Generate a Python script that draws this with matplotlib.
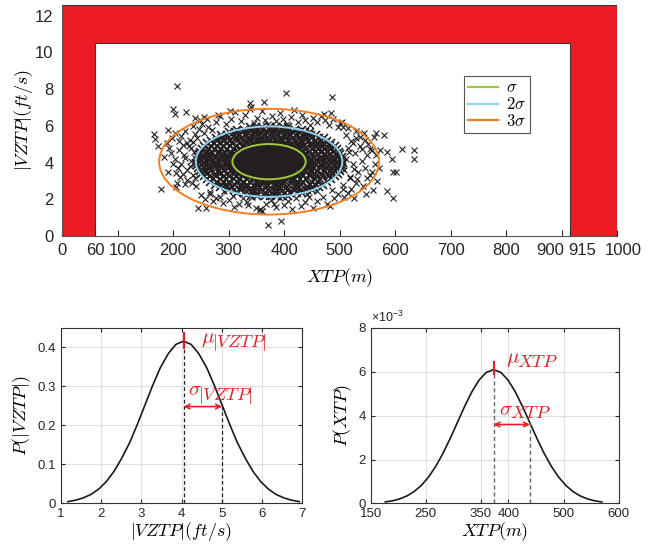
import matplotlib
matplotlib.use("Agg")
import matplotlib.pyplot as plt
from matplotlib.patches import Ellipse
from matplotlib.transforms import ScaledTranslation

plt.rcParams["font.family"] = ["Liberation Sans", "DejaVu Sans"]
plt.rcParams["mathtext.fontset"] = "cm"

# safe region limits
xtp_low = 60
xtp_high = 915
vztp_high = 10.5
xtp_max = 1000
vztp_max = 12.6
xtp_ticks = [0, 60, 100, 200, 300, 400, 500, 600, 700, 800, 900, 915, 1000]
vztp_ticks = [0, 2, 4, 6, 8, 10, 12]

# distribution parameters
mu_xtp = 373
sigma_xtp = 66
mu_vz = 4.05
sigma_vz = 0.96

# dense core of the scatter, rows of (|VZTP|, [XTP ...])
core_rows = [
    (3.15, [356, 366, 376, 386, 393]),
    (3.30, [338, 347, 356, 366, 375, 384, 394, 403, 411]),
    (3.45, [327, 336, 346, 355, 365, 374, 384, 393, 403, 412, 421]),
    (3.60, [320, 330, 339, 349, 358, 368, 378, 388, 397, 407, 417, 427]),
    (3.75, [316, 325, 334, 344, 353, 363, 373, 383, 392, 402, 411, 421, 431]),
    (3.90, [313, 323, 332, 342, 352, 362, 372, 382, 392, 401, 411, 421, 431, 436]),
    (4.05, [312, 321, 331, 341, 351, 361, 371, 381, 391, 401, 411, 421, 430, 438]),
    (4.20, [313, 322, 332, 342, 352, 362, 372, 382, 392, 402, 412, 422, 431]),
    (4.35, [315, 324, 334, 344, 354, 364, 374, 384, 394, 404, 414, 424, 433]),
    (4.50, [319, 329, 339, 349, 359, 369, 379, 389, 399, 409, 419, 428]),
    (4.65, [325, 335, 345, 355, 365, 375, 385, 395, 405, 415, 424]),
    (4.80, [334, 344, 354, 364, 374, 384, 394, 404, 414]),
    (4.95, [350, 360, 370, 380, 390, 398]),
]

# band between 1 and 2 sigma
ring_rows = [
    (2.20, [340, 351, 366, 374, 388, 397, 408]),
    (2.35, [316, 327, 343, 352, 365, 379, 386, 401, 410, 424, 433]),
    (2.50, [299, 309, 322, 336, 344, 360, 371, 385, 393, 408, 419, 431, 441, 450]),
    (2.65, [285, 297, 307, 322, 333, 348, 356, 370, 384, 392, 406, 419, 427, 442, 453, 463]),
    (2.80, [276, 288, 296, 311, 325, 333, 349, 360, 371, 386, 397, 409, 423, 431, 447, 457, 471]),
    (2.95, [267, 279, 291, 300, 315, 328, 338, 352, 362, 377, 389, 399, 414, 426, 435, 450, 462,
            477]),
    (3.10, [261, 272, 285, 296, 309, 318, 333, 344, 358, 367, 381, 394, 403, 417, 428, 440, 455,
            465, 484]),
    (3.25, [255, 266, 278, 291, 300, 313, 326, 336, 412, 423, 435, 447, 458, 470, 481, 492]),
    (3.40, [251, 262, 275, 284, 298, 309, 320, 327, 424, 433, 446, 455, 469, 480, 489, 497]),
    (3.55, [248, 259, 268, 282, 292, 304, 314, 321, 430, 437, 451, 460, 473, 484, 492, 501]),
    (3.70, [245, 255, 267, 279, 288, 300, 310, 317, 434, 442, 453, 465, 476, 487, 496, 504]),
    (3.85, [244, 253, 266, 275, 288, 297, 308, 314, 437, 444, 458, 467, 479, 490, 499, 505]),
    (4.00, [242, 254, 263, 276, 285, 297, 305, 313, 438, 446, 455, 468, 477, 489, 498, 506]),
    (4.15, [244, 252, 265, 274, 287, 298, 306, 313, 437, 445, 457, 466, 480, 488, 500, 505]),
    (4.30, [245, 256, 266, 278, 288, 299, 309, 316, 434, 443, 454, 467, 476, 489, 497, 504]),
    (4.45, [246, 258, 268, 281, 290, 303, 312, 319, 431, 439, 451, 462, 474, 483, 494, 501]),
    (4.60, [248, 261, 270, 283, 294, 304, 316, 324, 426, 433, 447, 457, 469, 479, 490, 499]),
    (4.75, [252, 264, 275, 287, 297, 310, 320, 330, 418, 427, 437, 450, 461, 472, 483, 495]),
    (4.90, [256, 268, 279, 290, 303, 313, 326, 338, 346, 404, 414, 426, 436, 449, 460, 470, 482,
            491]),
    (5.05, [261, 273, 284, 298, 307, 321, 332, 345, 353, 367, 378, 388, 401, 412, 425, 434, 448,
            459, 471, 485]),
    (5.20, [268, 279, 292, 302, 316, 327, 339, 350, 362, 373, 385, 396, 408, 420, 431, 443, 455,
            466, 478]),
    (5.35, [277, 289, 299, 313, 324, 336, 346, 359, 370, 381, 394, 404, 417, 428, 440, 451, 463,
            472]),
    (5.50, [287, 298, 311, 321, 334, 345, 357, 367, 380, 391, 403, 413, 426, 437, 449, 458]),
    (5.65, [300, 311, 324, 334, 347, 356, 370, 381, 392, 404, 415, 427, 437, 447]),
    (5.80, [316, 327, 340, 350, 362, 374, 385, 397, 408, 420, 432]),
    (5.92, [338, 350, 361, 374, 386, 398, 407]),
]

# sparser points outside 2 sigma
spread_pts = [
    (262, 6.35), (278, 6.2), (285, 6.55), (296, 6.1), (305, 6.4), (312, 6.75), (322, 6.25),
    (330, 6.6), (338, 6.9), (341, 7.05), (345, 6.15), (352, 6.45), (360, 6.8), (366, 6.3),
    (372, 6.1), (378, 6.55), (386, 6.25), (393, 6.7), (398, 6.35), (405, 6.1), (412, 6.5),
    (418, 6.85), (425, 6.2), (432, 6.6), (438, 6.3), (446, 6.05), (452, 6.45), (460, 6.2),
    (467, 6.55), (474, 6.3), (481, 6.05), (488, 6.4), (497, 5.95), (505, 6.2), (515, 5.9),
    (215, 5.45), (222, 5.7), (230, 5.25), (236, 6.0), (240, 5.55), (246, 5.85), (252, 6.1),
    (226, 5.05), (210, 5.2), (218, 4.95), (233, 4.8), (244, 5.35), (256, 5.6), (263, 5.95),
    (270, 5.75), (203, 5.6), (248, 6.3), (240, 6.45),
    (196, 4.5), (204, 4.2), (211, 4.7), (214, 3.9), (220, 4.4), (225, 3.6), (228, 4.9),
    (232, 4.1), (236, 3.3), (238, 4.6), (226, 3.05), (218, 3.4), (209, 3.7), (200, 3.95),
    (192, 4.8), (222, 4.25), (230, 3.8), (234, 2.9), (240, 3.15), (213, 3.2), (205, 3.45),
    (242, 2.75), (236, 5.1), (189, 5.05), (198, 5.35), (184, 4.3),
    (250, 2.25), (258, 2.0), (266, 2.3), (272, 1.9), (285, 2.15), (292, 2.45), (300, 1.95),
    (308, 2.2), (318, 1.75), (326, 2.05), (333, 1.85), (342, 2.1), (349, 1.55), (356, 1.45),
    (361, 1.35), (368, 1.75), (377, 1.95), (385, 1.6), (392, 2.05), (400, 1.7), (408, 1.9),
    (415, 1.45), (422, 2.05), (430, 1.65), (437, 1.85), (445, 2.1), (452, 1.5), (460, 1.9),
    (470, 2.15), (478, 1.75), (490, 2.05), (498, 2.3), (507, 2.55), (515, 2.35), (486, 2.5),
    (460, 2.45), (441, 2.3),
    (508, 3.6), (512, 4.2), (515, 4.8), (518, 3.2), (521, 5.2), (524, 3.9), (527, 4.5),
    (530, 2.9), (533, 3.5), (536, 4.9), (540, 4.1), (543, 2.7), (546, 3.7), (549, 4.4),
    (552, 5.0), (555, 3.3), (558, 4.7), (561, 2.5), (564, 3.9), (548, 2.3), (537, 5.4),
    (529, 5.7), (511, 5.5), (520, 2.55), (506, 2.8), (532, 3.1), (541, 4.75), (517, 4.55),
    (525, 5.05), (545, 5.25), (566, 4.4), (571, 3.7), (568, 3.0),
]

outlier_pts = [
    (208, 8.19), (200, 6.92), (204, 6.63), (223, 6.74), (191, 5.78), (165, 5.54), (167, 5.29),
    (173, 4.9), (338, 7.23), (364, 7.3), (403, 7.78), (486, 7.59), (302, 6.81), (281, 6.59),
    (255, 6.5), (472, 6.67), (484, 6.69), (500, 6.17), (506, 5.92), (544, 5.6), (565, 5.63),
    (563, 5.41), (580, 5.5), (613, 4.74), (634, 4.69), (529, 5.32), (555, 4.74), (573, 4.69),
    (585, 4.56), (594, 4.2), (634, 4.2), (597, 3.5), (601, 3.5), (586, 2.47), (597, 2.09),
    (558, 3.5), (550, 3.14), (526, 2.09), (508, 2.11), (482, 1.62), (526, 3.63), (519, 3.14),
    (179, 2.54), (191, 3.47), (205, 2.69), (207, 2.87), (221, 2.83), (245, 1.51), (260, 1.54),
    (371, 0.6), (394, 0.82), (356, 1.42), (360, 1.36), (310, 1.6), (335, 1.69), (382, 1.73),
    (290, 1.78), (277, 2.09), (266, 2.41),
]

# marginal densities
vz_grid = [1.17, 1.36, 1.55, 1.75, 1.94, 2.13, 2.32, 2.51, 2.71, 2.90, 3.09, 3.28, 3.47, 3.67,
           3.86, 4.05, 4.24, 4.43, 4.63, 4.82, 5.01, 5.20, 5.39, 5.59, 5.78, 5.97, 6.16, 6.35,
           6.55, 6.74, 6.93]
vz_pdf = [0.0046, 0.0083, 0.0141, 0.0233, 0.0369, 0.0562, 0.0822, 0.1155, 0.1560, 0.2023,
          0.2521, 0.3018, 0.3471, 0.3836, 0.4073, 0.4156, 0.4073, 0.3836, 0.3471, 0.3018,
          0.2521, 0.2023, 0.1560, 0.1155, 0.0822, 0.0562, 0.0369, 0.0233, 0.0141, 0.0083, 0.0046]
xtp_grid = [176.5, 189.6, 202.7, 215.8, 228.9, 242.0, 255.1, 268.2, 281.3, 294.4, 307.5, 320.6,
            333.7, 346.8, 359.9, 373.0, 386.1, 399.2, 412.3, 425.4, 438.5, 451.6, 464.7, 477.8,
            490.9, 504.0, 517.1, 530.2, 543.3, 556.4, 569.5]
xtp_pdf = [0.068, 0.121, 0.207, 0.342, 0.542, 0.824, 1.205, 1.693, 2.286, 2.965, 3.694, 4.423,
           5.087, 5.622, 5.970, 6.091, 5.970, 5.622, 5.087, 4.423, 3.694, 2.965, 2.286, 1.693,
           1.205, 0.824, 0.542, 0.342, 0.207, 0.121, 0.068]  # x 1e-3

vz_mu_mark = (0.399, 0.436)
xtp_mu_mark = (5.88, 6.45)

sigma_levels = [1, 2, 3]
sigma_colors = ["#9dc93b", "#8fd3f0", "#f27f22"]
sigma_labels = [r"$\sigma$", r"$2\sigma$", r"$3\sigma$"]

red = "#ed1c24"
tick_col = "#262626"

fig = plt.figure(figsize=(6.72, 5.49), dpi=100)

# ---- top: scatter with safe region ----
ax = fig.add_axes([0.0923, 0.5701, 0.8259, 0.4213])
ax.fill([0, xtp_low, xtp_low, xtp_high, xtp_high, xtp_max, xtp_max, 0],
        [0, 0, vztp_high, vztp_high, 0, 0, vztp_max, vztp_max],
        fc=red, ec="#3a3a3a", lw=0.8, zorder=1)

cx = [x for y, xs in core_rows for x in xs]
cy = [y for y, xs in core_rows for x in xs]
rx = [x for y, xs in ring_rows for x in xs]
ry = [y for y, xs in ring_rows for x in xs]
ox = [p[0] for p in spread_pts + outlier_pts]
oy = [p[1] for p in spread_pts + outlier_pts]
ax.plot(ox, oy, ls="none", marker="x", ms=4, mew=0.8, color="#231f20", zorder=2)
ax.plot(rx, ry, ls="none", marker="x", ms=5.5, mew=1.2, color="#231f20", zorder=2)
ax.plot(cx, cy, ls="none", marker="x", ms=7, mew=1.9, color="#231f20", zorder=2)

for k, c, lab in zip(sigma_levels, sigma_colors, sigma_labels):
    ax.add_patch(Ellipse((mu_xtp, mu_vz), 2 * k * sigma_xtp, 2 * k * sigma_vz,
                         fill=False, ec=c, lw=1.4, zorder=3))
    ax.plot([], [], color=c, lw=1.6, label=lab)

leg = ax.legend(loc="upper left", bbox_to_anchor=(0.724, 0.69), fontsize=12,
                handlelength=1.8, fancybox=False, framealpha=1, borderpad=0.25,
                labelspacing=0.05, handletextpad=0.5, borderaxespad=0)
leg.get_frame().set_edgecolor("#555555")
leg.get_frame().set_linewidth(0.8)

ax.set_xlim(0, xtp_max)
ax.set_ylim(0, vztp_max)
ax.set_xticks(xtp_ticks)
ax.set_yticks(vztp_ticks)
ax.tick_params(axis="x", direction="in", length=4, colors=tick_col, labelsize=12, pad=5)
ax.tick_params(axis="y", length=0, colors=tick_col, labelsize=12, pad=6)
# nudge crowded tick labels apart the way the original has them
nudge = {100: 3.5, 900: -8.5, 915: 9, 1000: 4.5}
for val, lab in zip(xtp_ticks, ax.get_xticklabels()):
    if val in nudge:
        lab.set_transform(lab.get_transform() +
                          ScaledTranslation(nudge[val] / 72, 0, fig.dpi_scale_trans))
for s in ["left", "bottom"]:
    ax.spines[s].set_color("#555555")
for s in ["top", "right"]:
    ax.spines[s].set_visible(False)
ax.set_xlabel(r"$XTP(m)$", fontsize=13, labelpad=6)
ax.set_ylabel(r"$|VZTP|(ft/s)$", fontsize=13, labelpad=0)


def style_small(a):
    a.grid(True, color="#e0e0e0", lw=0.8)
    a.set_axisbelow(True)
    a.tick_params(direction="in", length=3, top=True, right=True, colors=tick_col,
                  labelsize=9.5)
    for s in a.spines.values():
        s.set_color("#333333")
        s.set_linewidth(0.8)


def sub_label(a, x, y, sym, xs, ys, sub):
    a.text(x, y, sym, color=red, fontsize=15, va="baseline")
    a.text(xs, ys, sub, color=red, fontsize=13, va="baseline")


# ---- bottom left: |VZTP| density ----
ax1 = fig.add_axes([0.0908, 0.083, 0.3586, 0.320])
style_small(ax1)
ax1.plot(vz_grid, vz_pdf, color="#1a1a1a", lw=1.2)
peak_vz = max(vz_pdf)
sig_vz_val = vz_pdf[vz_grid.index(5.01)]
ax1.plot([mu_vz, mu_vz], [0, peak_vz], ls="--", color="#222222", lw=0.9, dashes=(3, 2))
ax1.plot([mu_vz + sigma_vz, mu_vz + sigma_vz], [0, sig_vz_val], ls="--", color="#222222",
         lw=0.9, dashes=(3, 2))
ax1.plot([mu_vz, mu_vz], vz_mu_mark, color=red, lw=1.5)
ax1.annotate("", xy=(mu_vz + sigma_vz, sig_vz_val - 0.004), xytext=(mu_vz, sig_vz_val - 0.004),
             arrowprops=dict(arrowstyle="<->", color=red, lw=1.2, mutation_scale=8,
                             shrinkA=0, shrinkB=0))
sub_label(ax1, 4.48, 0.411, r"$\mu$", 4.77, 0.401, r"$|VZTP|$")
sub_label(ax1, 4.15, 0.276, r"$\sigma$", 4.40, 0.266, r"$|VZTP|$")
ax1.set_xlim(1, 7)
ax1.set_ylim(0, 0.45)
ax1.set_xticks([1, 2, 3, 4, 5, 6, 7])
ax1.set_yticks([0, 0.1, 0.2, 0.3, 0.4])
ax1.set_yticklabels(["0", "0.1", "0.2", "0.3", "0.4"])
ax1.set_xlabel(r"$|VZTP|(ft/s)$", fontsize=13, labelpad=0)
ax1.set_ylabel(r"$P(|VZTP|)$", fontsize=13, labelpad=3)

# ---- bottom right: XTP density ----
ax2 = fig.add_axes([0.5516, 0.083, 0.369, 0.320])
style_small(ax2)
ax2.plot(xtp_grid, xtp_pdf, color="#1a1a1a", lw=1.2)
peak_x = max(xtp_pdf)
sig_x_val = xtp_pdf[xtp_grid.index(438.5)]
ax2.plot([mu_xtp, mu_xtp], [0, peak_x], ls="--", color="#666666", lw=1.0, dashes=(3, 2))
ax2.plot([mu_xtp + sigma_xtp, mu_xtp + sigma_xtp], [0, sig_x_val], ls="--", color="#666666",
         lw=1.0, dashes=(3, 2))
ax2.plot([mu_xtp, mu_xtp], xtp_mu_mark, color=red, lw=1.5)
ax2.annotate("", xy=(mu_xtp + sigma_xtp, sig_x_val - 0.1), xytext=(mu_xtp, sig_x_val - 0.1),
             arrowprops=dict(arrowstyle="<->", color=red, lw=1.2, mutation_scale=8,
                             shrinkA=0, shrinkB=0))
sub_label(ax2, 395, 6.39, r"$\mu$", 416, 6.22, r"$XTP$")
sub_label(ax2, 383, 4.01, r"$\sigma$", 403, 3.89, r"$XTP$")
ax2.set_xlim(150, 600)
ax2.set_ylim(0, 8)
ax2.set_xticks([150, 250, 350, 400, 500, 600])
ax2.set_yticks([0, 2, 4, 6, 8])
ax2.text(0.0, 1.015, "\u00d710$^{\\mathregular{-3}}$", transform=ax2.transAxes,
         fontsize=9, color=tick_col, va="bottom")
ax2.set_xlabel(r"$XTP(m)$", fontsize=13, labelpad=0)
ax2.set_ylabel(r"$P(XTP)$", fontsize=13, labelpad=3)

fig.savefig("out.png", dpi=100)
